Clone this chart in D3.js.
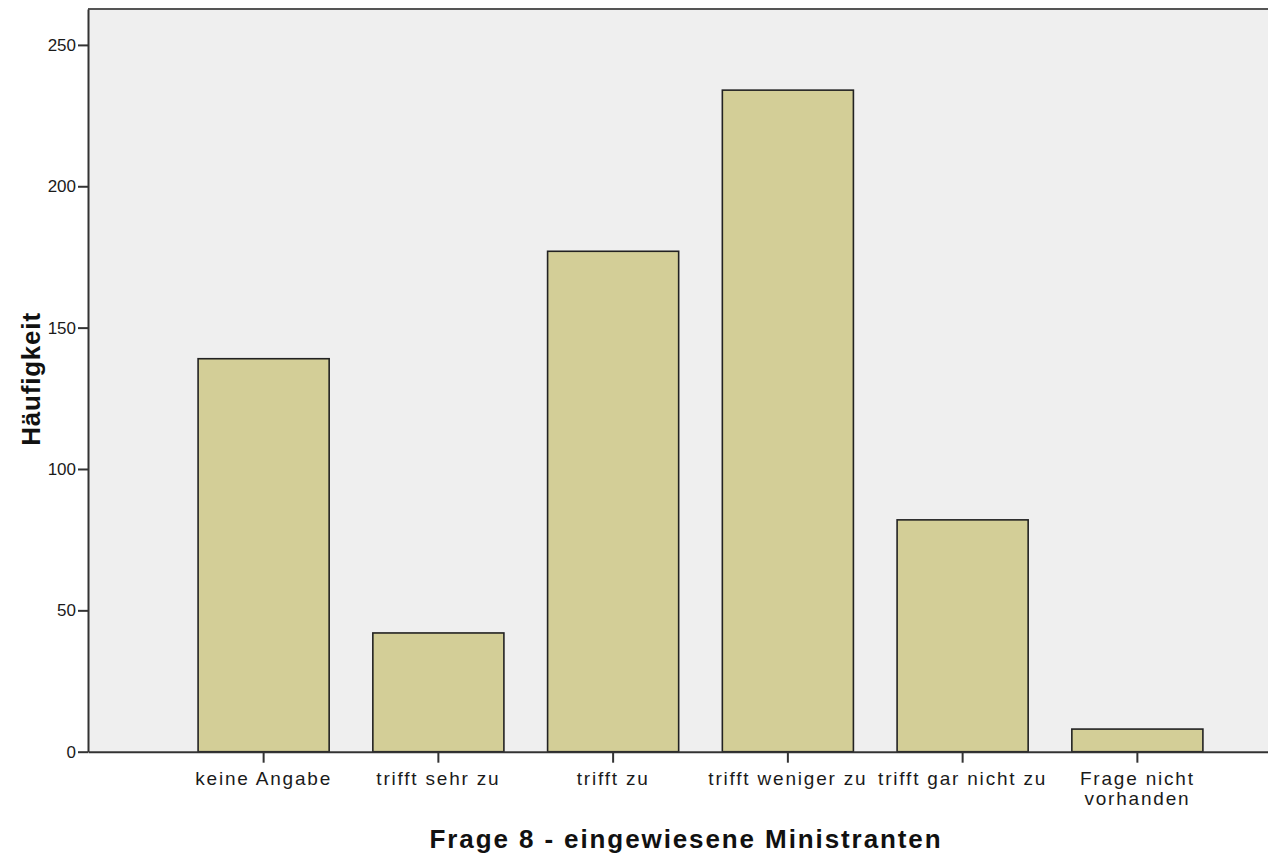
<!doctype html>
<html lang="de">
<head>
  <meta charset="utf-8">
  <title>Frage 8 - eingewiesene Ministranten</title>
  <script src="https://cdn.jsdelivr.net/npm/d3@7"></script>
  <style type="text/css">
    body {
      margin: 0;
      background-color: #ffffff;
      font-family: "Liberation Sans", Arial, sans-serif;
    }
    .plotbg {
      fill: #efefef;
    }
    .bar {
      fill: #d3ce97;
      stroke: #222222;
      stroke-width: 1.6px;
    }
    .axis path, .axis line {
      stroke: #333333;
      stroke-width: 2px;
    }
    .axis text {
      fill: #1a1a1a;
      font-family: "Liberation Sans", Arial, sans-serif;
    }
    .ytick text {
      font-size: 17px;
    }
    .xtick text {
      font-size: 19px;
      letter-spacing: 1.8px;
    }
    .title {
      fill: #111111;
      font-weight: bold;
      font-size: 26px;
    }
  </style>
</head>
<body>
  <div id="container"></div>

<script type="text/javascript">

  // Categories (a "\n" breaks the tick label in two lines)
  var categories = [
    "keine Angabe",
    "trifft sehr zu",
    "trifft zu",
    "trifft weniger zu",
    "trifft gar nicht zu",
    "Frage nicht\nvorhanden"
  ];

  // Frequencies
  var counts = [139, 42, 177, 234, 82, 8];

  // Y axis tick values
  var yTicks = [0, 50, 100, 150, 200, 250];

  var xTitle = "Frage 8 - eingewiesene Ministranten";
  var yTitle = "Häufigkeit";

  // SVG dimensions
  var width = 1268, height = 859;

  var svg = d3.select("#container")
    .append("svg")
    .attr("width", width)
    .attr("height", height);

  // Plot area edges (right side runs past the picture)
  var plotLeft = 88, plotTop = 9, plotBottom = 751.7, plotRight = 1313;

  var xScale = d3.scaleBand()
    .domain(categories)
    .range([plotLeft, plotRight])
    .paddingInner(0.25)
    .paddingOuter(0.63);

  var yScale = d3.scaleLinear()
    .domain([0, 262.7])
    .range([plotBottom, plotTop]);

  // Grey plot background
  svg.append("rect")
    .attr("class", "plotbg")
    .attr("x", plotLeft)
    .attr("y", plotTop)
    .attr("width", plotRight - plotLeft)
    .attr("height", plotBottom - plotTop);

  // Top frame line
  svg.append("line")
    .attr("x1", plotLeft)
    .attr("x2", plotRight)
    .attr("y1", plotTop)
    .attr("y2", plotTop)
    .attr("stroke", "#555555")
    .attr("stroke-width", 2);

  // Bars
  svg.selectAll(".bar")
    .data(categories)
    .enter()
    .append("rect")
    .attr("class", "bar")
    .attr("x", function(d) { return xScale(d); })
    .attr("width", xScale.bandwidth())
    .attr("y", function(d, i) { return yScale(counts[i]); })
    .attr("height", function(d, i) { return yScale(0) - yScale(counts[i]); });

  // Y axis
  svg.append("g")
    .attr("class", "axis ytick")
    .attr("transform", "translate(" + plotLeft + ",0)")
    .call(d3.axisLeft(yScale)
      .tickValues(yTicks)
      .tickSize(10)
      .tickSizeOuter(0)
      .tickPadding(2));

  // X axis
  var xAxis = svg.append("g")
    .attr("class", "axis xtick")
    .attr("transform", "translate(0," + plotBottom + ")")
    .call(d3.axisBottom(xScale)
      .tickSize(11)
      .tickSizeOuter(0));

  // Split the long labels in two lines
  xAxis.selectAll(".tick text")
    .attr("y", 0)
    .attr("dy", null)
    .text(null)
    .each(function(d) {
      var t = d3.select(this);
      d.split("\n").forEach(function(line, k) {
        t.append("tspan")
          .attr("x", 0)
          .attr("y", 33 + k * 20)
          .text(line);
      });
    });

  // Axis titles
  svg.append("text")
    .attr("class", "title")
    .attr("x", 686)
    .attr("y", 848)
    .attr("text-anchor", "middle")
    .style("letter-spacing", "1.9px")
    .text(xTitle);

  svg.append("text")
    .attr("class", "title")
    .attr("transform", "translate(40,379) rotate(-90)")
    .attr("text-anchor", "middle")
    .style("letter-spacing", "0.8px")
    .text(yTitle);

</script>
</body>
</html>
